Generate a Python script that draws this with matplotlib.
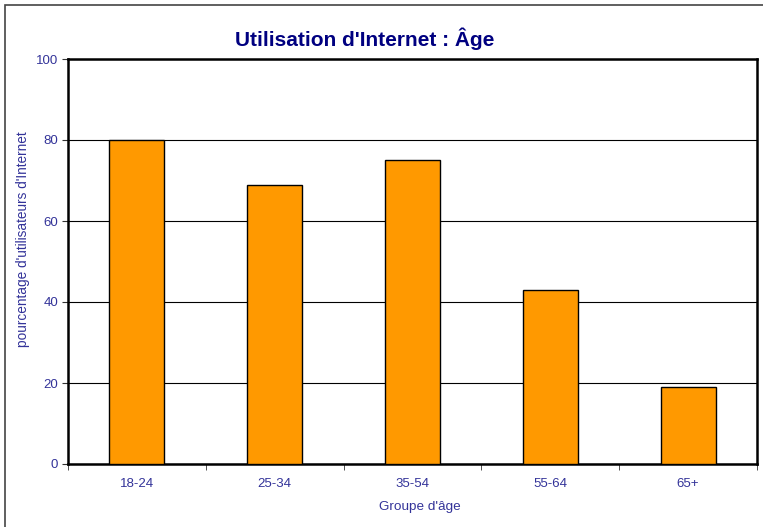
import numpy as np
import matplotlib.pyplot as plt
from matplotlib.patches import Rectangle

plt.rcParams['font.family'] = ['Liberation Sans', 'DejaVu Sans']

groups = ["18-24", "25-34", "35-54", "55-64", "65+"]
pct = [80, 69, 75, 43, 19]
yticks = [0, 20, 40, 60, 80, 100]

navy = "#000080"
lbl = "#333399"

W, H = 763, 527
fig = plt.figure(figsize=(W / 100, H / 100), dpi=100)
ax = fig.add_axes([68 / W, 1 - 464 / H, (757 - 68) / W, (464 - 59) / H])

# outer chart border (only top/left visible in the original crop)
fig.patches.append(Rectangle((5 / W, -0.1), 1.2, 1 - 5 / H + 0.1,
                             transform=fig.transFigure, fill=False,
                             edgecolor="#444444", linewidth=1.2))

x = np.arange(len(groups))
ax.bar(x, pct, width=0.4, color="#FF9900", edgecolor="black", linewidth=1, zorder=3)

ax.set_xlim(-0.5, len(groups) - 0.5)
ax.set_ylim(0, 100)
ax.set_yticks(yticks)
ax.set_yticklabels([str(v) for v in yticks], color=lbl, fontsize=9.5)
ax.yaxis.grid(True, color="black", linewidth=0.8, zorder=0)
ax.set_axisbelow(True)

ax.set_xticks(x)
ax.set_xticklabels(groups, color=lbl, fontsize=9.5)
ax.tick_params(axis="x", length=0, pad=10)
ax.set_xticks(np.arange(len(groups) + 1) - 0.5, minor=True)
ax.tick_params(axis="x", which="minor", length=4, direction="out", color="#333333")
ax.tick_params(axis="y", length=4, direction="out", color="#333333", pad=3)

for s in ax.spines.values():
    s.set_linewidth(1.8)
    s.set_color("black")

# axis titles placed as in the original (slightly off-centre)
fig.text(420 / W, 1 - 507 / H, "Groupe d'âge", ha="center", va="center",
         color=lbl, fontsize=9.7)
fig.text(23 / W, 1 - 239 / H, "pourcentage d'utilisateurs d'Internet", ha="center",
         va="center", rotation=90, color=lbl, fontsize=9.8)

fig.text(365 / W, 1 - 39 / H, "Utilisation d'Internet : Âge",
         ha="center", va="center", fontsize=15, fontweight="bold", color=navy)

fig.savefig("out.png", dpi=100)
